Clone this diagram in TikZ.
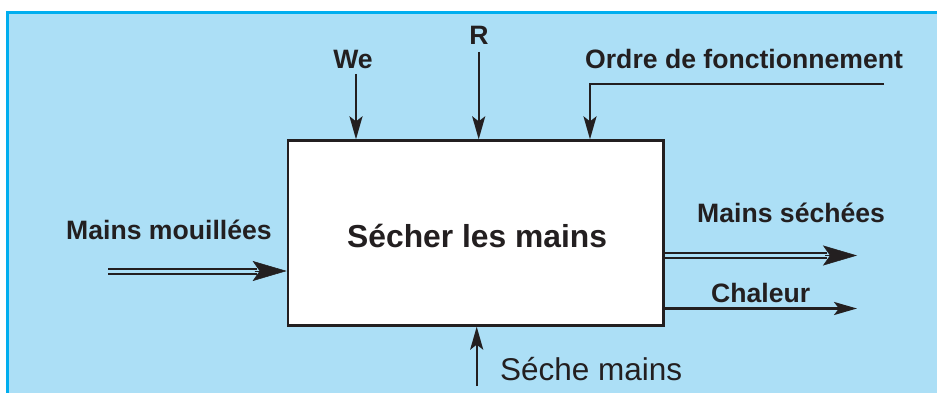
\documentclass[tikz,border=0pt]{standalone}
\usepackage{fontspec}
\setmainfont{Liberation Sans}
\usetikzlibrary{arrows.meta,calc}
\definecolor{edgeblue}{RGB}{0,174,239}
\definecolor{paleblue}{RGB}{172,223,246}
\definecolor{ink}{RGB}{35,31,32}
\tikzset{
  lbl/.style={inner sep=0, text=ink, font=\fontsize{26.6}{30}\selectfont\bfseries},
  arr/.style={draw=ink, line width=2.4pt, -{Stealth[length=23pt,width=13pt,inset=5pt]}},
  dblline/.style={draw=ink, line width=2pt, double=paleblue, double distance=3pt},
  dbltip/.style={draw=ink, fill=ink, line width=0.5pt, -{Stealth[length=34pt,width=20pt,inset=7pt]}},
}
\begin{document}
\begin{tikzpicture}[x=1pt,y=-1pt]
\useasboundingbox (0,0) rectangle (937,393);
\fill[white] (0,0) rectangle (937,393);
\fill[edgeblue] (6,11) rectangle (937,393);
\fill[paleblue] (9,14) rectangle (937,393);

% main box
\node[draw=ink, line width=2.7pt, fill=white, minimum width=375.5pt, minimum height=184.6pt, inner sep=0] (box) at (475.75,233) {};
\node[inner sep=0, text=ink, anchor=base west, font=\fontsize{31.8}{36}\selectfont\bfseries] (title) at (347,247) {Sécher les mains};

% top inputs
\node[lbl, anchor=base] (we) at (353,69) {We};
\coordinate (weTop) at (356,74);
\draw[arr] (weTop) -- (weTop |- box.north);

\node[lbl, anchor=base] (r) at (479,45) {R};
\coordinate (rTop) at (478.7,52);
\draw[arr] (rTop) -- (rTop |- box.north);

\node[lbl, anchor=base west] (ordre) at (585,69) {Ordre de fonctionnement};
\coordinate (ordEnd) at (884,84.3);
\coordinate (ordCorner) at (590,84.3);
\draw[arr] (ordEnd) -- (ordCorner) -- (ordCorner |- box.north);

% left input
\node[lbl, anchor=base west] (mm) at (66,239) {Mains mouillées};
\coordinate (mmStart) at (108,271);
\draw[dblline] (mmStart) -- ($(box.west |- mmStart)+(-30,0)$);
\draw[dbltip] ($(box.west |- mmStart)+(-32,0)$) -- (box.west |- mmStart);

% right outputs
\node[lbl, anchor=base west] (ms) at (697,222) {Mains séchées};
\coordinate (msEnd) at (857,255.5);
\draw[dblline] (box.east |- msEnd) -- ($(msEnd)+(-30,0)$);
\draw[dbltip] ($(msEnd)+(-32,0)$) -- (msEnd);

\node[lbl, anchor=base west] (ch) at (711,302) {Chaleur};
\coordinate (chEnd) at (857,308.5);
\draw[arr] (box.east |- chEnd) -- (chEnd);

% bottom support
\node[inner sep=0, text=ink, anchor=base west, font=\fontsize{31.5}{36}\selectfont] (sm) at (500,380) {Séche mains};
\coordinate (smBot) at (476.7,386);
\draw[arr] (smBot) -- (smBot |- box.south);
\end{tikzpicture}
\end{document}
